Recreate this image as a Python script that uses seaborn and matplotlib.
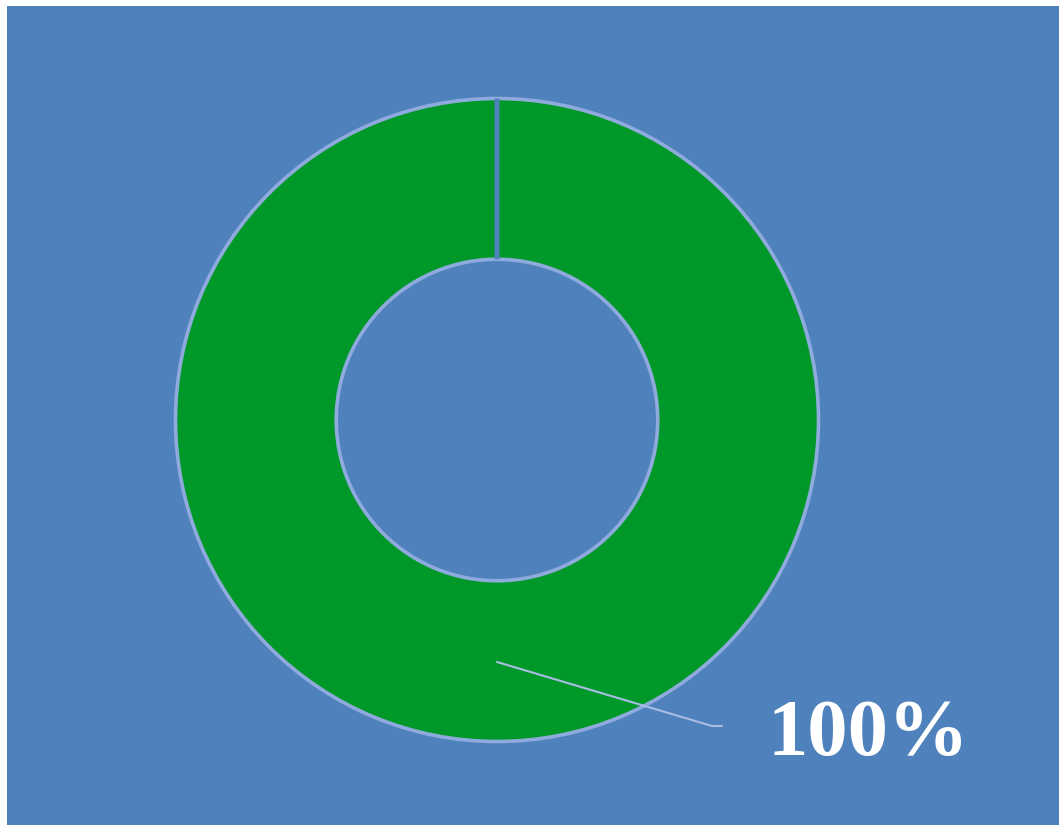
import matplotlib
matplotlib.use("Agg")
import matplotlib.pyplot as plt
import seaborn as sns

# data
categories = ["A", "B"]
values = [100, 0]
slice_colors = ["#009929", "#4F81BD"]

sns.set_theme(style="white")
plt.rcParams["font.family"] = ["Liberation Serif", "DejaVu Serif"]

W, H = 1059, 825
fig = plt.figure(figsize=(W / 100, H / 100), dpi=100, facecolor="white")
ax = fig.add_axes([7 / W, 0, (W - 7) / W, (H - 6) / H])
ax.set_facecolor("#4F81BD")
for s in ax.spines.values():
    s.set_visible(False)

cx, cy, R = 497, H - 420, 321.5
wedges, _ = ax.pie(values, colors=slice_colors, startangle=90, counterclock=False,
                   center=(cx, cy), radius=R, frame=True,
                   wedgeprops=dict(width=R * 0.5, edgecolor="#8FAADC", linewidth=2.6))
# zero-size slice draws as a radial divider
wedges[1].set_edgecolor("#4F81BD")
wedges[1].set_linewidth(3.6)
wedges[1].set_zorder(wedges[0].get_zorder() + 1)
ax.set_xlim(7, W)
ax.set_ylim(0, H - 6)
ax.set_aspect("auto")
ax.set_xticks([])
ax.set_yticks([])

total = sum(values)
pct = f"{values[0] / total * 100:.0f}%"
ax.plot([497, 712, 722], [H - 662, H - 726, H - 726], color="#A9BDE2", lw=1.5, zorder=5)
ax.text(768, H - 755, pct, color="white", fontsize=58, fontweight="bold",
        ha="left", va="baseline", zorder=6)

fig.savefig("out.png", dpi=100, facecolor="white")
